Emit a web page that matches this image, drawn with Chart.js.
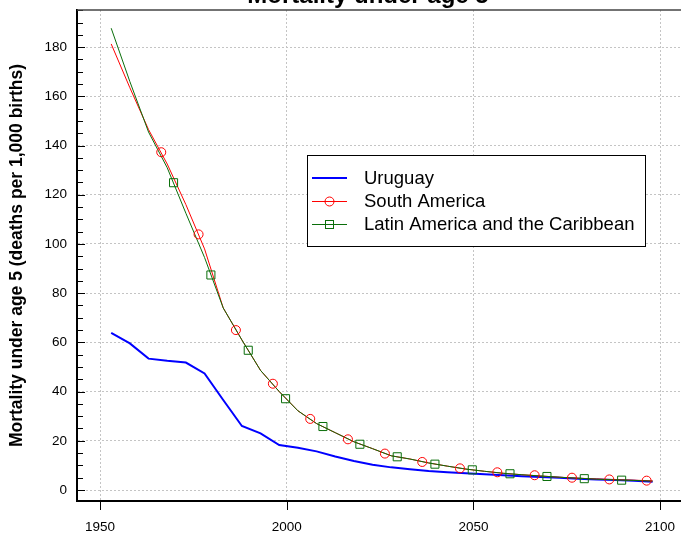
<!DOCTYPE html>
<html><head><meta charset="utf-8">
<script src="https://cdn.jsdelivr.net/npm/chart.js@4/dist/chart.umd.min.js"></script>
<style>html,body{margin:0;padding:0;background:#fff;overflow:hidden}</style>
</head><body>
<canvas id="c" width="681" height="535"></canvas>
<script>
// ---- data ----
const chartTitle = "Mortality under age 5";
const yAxisTitle = "Mortality under age 5 (deaths per 1,000 births)";
const seriesNames = ["Uruguay", "South America", "Latin America and the Caribbean"];
const years = [1953,1958,1963,1968,1973,1978,1983,1988,1993,1998,2003,2008,2013,2018,2023,2028,2033,2038,2043,2048,2053,2058,2063,2068,2073,2078,2083,2088,2093,2098];
const uruguay = [63.9,59.6,53.4,52.5,51.8,47.4,36.6,26.0,23.0,18.3,17.2,15.7,13.6,11.8,10.3,9.2,8.4,7.7,7.2,6.8,6.4,6.0,5.6,5.3,5.0,4.6,4.3,4.1,3.8,3.4];
const southAmerica = [181.3,163.5,146.5,132.5,116.0,98.0,74.0,61.0,48.6,40.0,32.2,27.0,23.3,19.6,16.8,13.9,12.6,11.0,9.7,8.5,7.6,6.8,6.2,5.7,5.2,4.8,4.5,4.2,4.0,3.7];
const latinAmerica = [187.7,166.0,145.5,131.0,112.5,94.5,74.0,61.0,48.6,40.0,32.2,27.0,23.3,19.6,16.8,13.9,12.6,11.0,9.7,8.5,7.6,6.8,6.2,5.7,5.2,4.8,4.4,4.1,3.9,3.6];
const saMarkerYears = [1966.4,1976.4,1986.4,1996.3,2006.3,2016.4,2026.3,2036.3,2046.4,2056.4,2066.4,2076.4,2086.4,2096.4];
const saMarkerValues = [137.3,103.9,65.0,43.2,28.9,20.6,14.8,11.4,8.8,7.2,6.0,5.0,4.3,3.8];
const lacMarkerYears = [1969.7,1979.7,1989.7,1999.7,2009.7,2019.6,2029.6,2039.7,2049.7,2059.8,2069.7,2079.7,2089.7];
const lacMarkerValues = [124.9,87.4,56.8,37.1,25.8,18.6,13.5,10.5,8.2,6.6,5.5,4.6,4.0];
const xTickValues = [1950,2000,2050,2100];
const yTickValues = [0,20,40,60,80,100,120,140,160,180];

const FONT = '"Liberation Sans", Arial, Helvetica, sans-serif';
const BLUE = '#0000ff', RED = '#ff0000', GREEN = '#0a6e0a';
Chart.defaults.font.family = FONT;

const pts = (xs, ys) => xs.map((x, i) => ({x: x, y: ys[i]}));

const framePlugin = {
  id: 'frame',
  beforeDatasetsDraw(chart) {
    const ctx = chart.ctx, ca = chart.chartArea, ys = chart.scales.y, xs = chart.scales.x;
    ctx.save();
    ctx.strokeStyle = '#000';
    ctx.lineWidth = 1;
    for (let v = 0; v <= 195; v += 5) {
      const py = Math.round(ys.getPixelForValue(v)) + 0.5;
      const len = (v % 20 === 0) ? 8 : 6;
      ctx.beginPath(); ctx.moveTo(ca.left, py); ctx.lineTo(ca.left + len, py); ctx.stroke();
    }
    xTickValues.forEach(v => {
      const px = Math.round(xs.getPixelForValue(v)) + 0.5;
      ctx.beginPath(); ctx.moveTo(px, ca.bottom); ctx.lineTo(px, ca.bottom + 9); ctx.stroke();
    });
    ctx.strokeStyle = '#444'; ctx.lineWidth = 1.5;
    ctx.beginPath(); ctx.moveTo(ca.left, ca.top); ctx.lineTo(ca.right, ca.top); ctx.stroke();
    ctx.restore();
  },
  afterDraw(chart) {
    const ctx = chart.ctx;
    ctx.save();
    ctx.fillStyle = '#000';
    ctx.font = 'bold 24px ' + FONT;
    ctx.textAlign = 'center'; ctx.textBaseline = 'alphabetic';
    ctx.fillText(chartTitle, 368, 3);
    const bx = 307.5, by = 155.5, bw = 338, bh = 91;
    ctx.fillStyle = '#fff'; ctx.fillRect(bx, by, bw, bh);
    ctx.strokeStyle = '#000'; ctx.lineWidth = 1; ctx.strokeRect(bx, by, bw, bh);
    const rows = [178, 201, 224];
    const cols = [BLUE, RED, GREEN];
    const widths = [2, 1, 1];
    ctx.font = '18.5px ' + FONT; ctx.textAlign = 'left'; ctx.textBaseline = 'middle';
    rows.forEach((ry, i) => {
      ctx.strokeStyle = cols[i]; ctx.lineWidth = widths[i];
      const ly = ry + (i === 0 ? 0 : 0.5);
      ctx.beginPath(); ctx.moveTo(312, ly); ctx.lineTo(347, ly); ctx.stroke();
      ctx.lineWidth = 1;
      if (i === 1) { ctx.beginPath(); ctx.arc(329.5, ry + 0.5, 4.5, 0, Math.PI * 2); ctx.stroke(); }
      if (i === 2) { ctx.strokeRect(325.5, ry - 3.5, 8, 8); }
      ctx.fillStyle = '#000';
      ctx.fillText(seriesNames[i], 364, ry + 1);
    });
    ctx.restore();
  }
};

new Chart(document.getElementById('c'), {
  type: 'line',
  data: {
    datasets: [
      {label: seriesNames[2] + ' markers', data: pts(lacMarkerYears, lacMarkerValues), showLine: false, pointStyle: 'rect', pointRadius: 5.7, borderColor: GREEN, backgroundColor: 'rgba(0,0,0,0)', borderWidth: 1, order: 0},
      {label: seriesNames[1] + ' markers', data: pts(saMarkerYears, saMarkerValues), showLine: false, pointStyle: 'circle', pointRadius: 4.5, borderColor: RED, backgroundColor: 'rgba(0,0,0,0)', borderWidth: 1, order: 1},
      {label: seriesNames[2], data: pts(years, latinAmerica), borderColor: GREEN, borderWidth: 1, pointRadius: 0, tension: 0, order: 2},
      {label: seriesNames[1], data: pts(years, southAmerica), borderColor: RED, borderWidth: 1, pointRadius: 0, tension: 0, order: 3},
      {label: seriesNames[0], data: pts(years, uruguay), borderColor: BLUE, borderWidth: 2, pointRadius: 0, tension: 0, order: 4}
    ]
  },
  options: {
    responsive: false,
    animation: false,
    events: [],
    layout: {autoPadding: false, padding: {top: 10, right: 0, left: 0, bottom: 0}},
    plugins: {legend: {display: false}, tooltip: {enabled: false}, title: {display: false}},
    scales: {
      x: {
        type: 'linear', min: 1943.84, max: 2105.6,
        afterBuildTicks: s => { s.ticks = xTickValues.map(v => ({value: v})); },
        afterFit: s => { s.height = 34; s.paddingLeft = 0; s.paddingRight = 0; },
        grid: {drawTicks: false, color: '#c4c4c4', lineWidth: 1},
        border: {display: true, color: '#000', width: 2, dash: [2, 2]},
        ticks: {padding: 18, color: '#000', font: {size: 13.5}, callback: v => String(v), maxRotation: 0}
      },
      y: {
        type: 'linear', min: -4.47, max: 195.1,
        afterBuildTicks: s => { s.ticks = yTickValues.map(v => ({value: v})); },
        afterFit: s => { s.width = 77; s.paddingTop = 0; s.paddingBottom = 0; },
        grid: {drawTicks: false, color: '#c4c4c4', lineWidth: 1},
        border: {display: true, color: '#000', width: 2, dash: [2, 2]},
        ticks: {padding: 10, color: '#000', font: {size: 13.5}, callback: v => String(v)},
        title: {display: true, text: yAxisTitle, color: '#000', font: {size: 17.5, weight: 'bold'}, padding: {top: 7, bottom: 0}}
      }
    }
  },
  plugins: [framePlugin]
});
</script>
</body></html>
